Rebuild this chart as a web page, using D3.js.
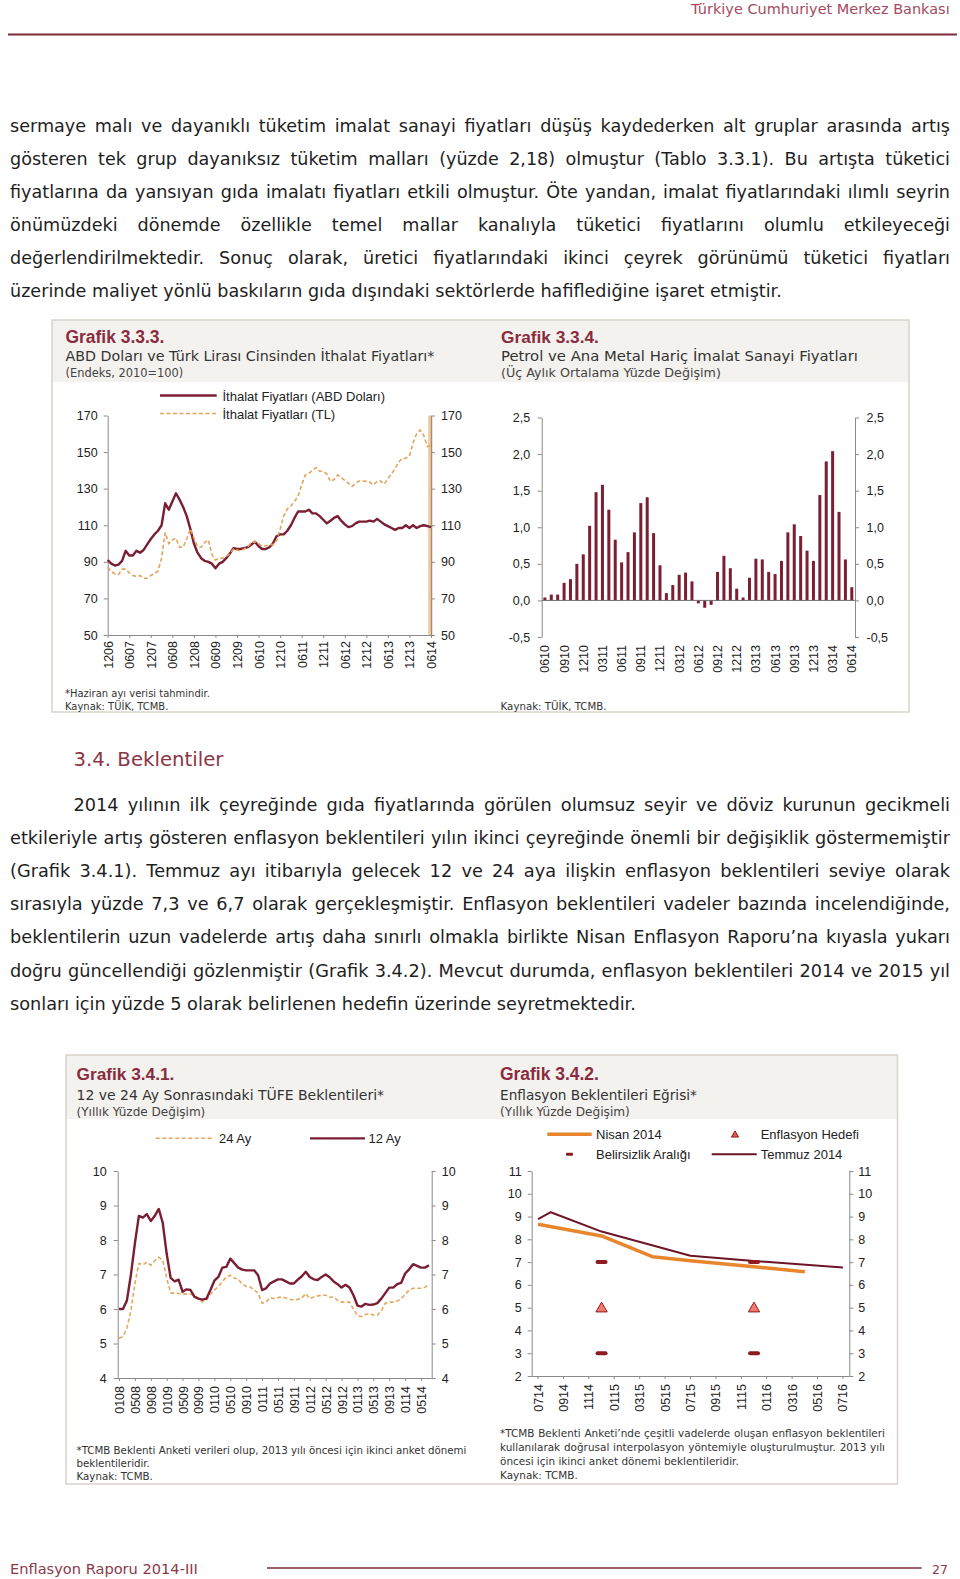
<!DOCTYPE html>
<html><head><meta charset="utf-8">
<script src="https://cdn.jsdelivr.net/npm/d3@7"></script>
<style>html,body{margin:0;padding:0;background:#fff;} svg{display:block;}</style>
</head><body>
<svg id="page" width="960" height="1579"></svg>
<script>
// ---------------- DATA ----------------
const headerText = "Türkiye Cumhuriyet Merkez Bankası";
const footerText = "Enflasyon Raporu  2014-III";
const pageNumber = "27";
const para1 = [
 "sermaye malı ve dayanıklı tüketim imalat sanayi fiyatları düşüş kaydederken alt gruplar arasında artış",
 "gösteren tek grup dayanıksız tüketim malları (yüzde 2,18) olmuştur (Tablo 3.3.1). Bu artışta tüketici",
 "fiyatlarına da yansıyan gıda imalatı fiyatları etkili olmuştur. Öte yandan, imalat fiyatlarındaki ılımlı seyrin",
 "önümüzdeki dönemde özellikle temel mallar kanalıyla tüketici fiyatlarını olumlu etkileyeceği",
 "değerlendirilmektedir. Sonuç olarak, üretici fiyatlarındaki ikinci çeyrek görünümü tüketici fiyatları",
 "üzerinde maliyet yönlü baskıların gıda dışındaki sektörlerde hafiflediğine işaret etmiştir."
];
const sectionTitle = "3.4. Beklentiler";
const para2 = [
 "2014 yılının ilk çeyreğinde gıda fiyatlarında görülen olumsuz seyir ve döviz kurunun gecikmeli",
 "etkileriyle artış gösteren enflasyon beklentileri yılın ikinci çeyreğinde önemli bir değişiklik göstermemiştir",
 "(Grafik 3.4.1). Temmuz ayı itibarıyla gelecek 12 ve 24 aya ilişkin enflasyon beklentileri seviye olarak",
 "sırasıyla yüzde 7,3 ve 6,7 olarak gerçekleşmiştir. Enflasyon beklentileri vadeler bazında incelendiğinde,",
 "beklentilerin uzun vadelerde artış daha sınırlı olmakla birlikte Nisan Enflasyon Raporu’na kıyasla yukarı",
 "doğru güncellendiği gözlenmiştir (Grafik 3.4.2). Mevcut durumda, enflasyon beklentileri 2014 ve 2015 yıl",
 "sonları için yüzde 5 olarak belirlenen hedefin üzerinde seyretmektedir."
];

// Grafik 3.3.3 (monthly, 12/2006 - 06/2014)
const title333 = ["Grafik 3.3.3.", "ABD Doları ve Türk Lirası Cinsinden İthalat Fiyatları*", "(Endeks, 2010=100)"];
const notes333 = ["*Haziran ayı verisi tahmindir.", "Kaynak: TÜİK, TCMB."];
const series333 = ["İthalat Fiyatları (ABD Doları)", "İthalat Fiyatları (TL)"];
const xLabels333 = ["1206","0607","1207","0608","1208","0609","1209","0610","1210","0611","1211","0612","1212","0613","1213","0614"];
const yTicks333 = [50,70,90,110,130,150,170];
const usd333 = [91,89,88,88.5,90.5,96,93.5,93.5,96,95,96.5,99.5,102.5,105,107,110,122,118.5,123,127.5,124,120,115,108,100,95,92,90.5,90,89,86.5,89,90,92,94.5,97.5,97,97,97.5,98,99.5,101,98.5,97,97,98,100,104,105,105,107,110,114,117.5,117.5,117.5,118.5,116.5,116.5,115,113,111,112.5,114,115,112.5,110.5,109,109.5,111,112,112,112,112.5,112,113.5,112,110.5,109.5,108.5,107.5,108.5,108.5,110,108.5,110,108.5,109.5,110,109.5,109];
const tl333 = [87,84.7,83.5,83,86,86,84,82.5,82,82.5,81,81,82.5,83.5,85,92,106,100,102,103,98,98,102.5,108,103,98.5,98,100.5,102,94,91,92,92,93,94.5,97,96.5,96,97,98.3,100.5,101,100,98.5,98.8,99.2,99.5,101.5,108,115,119,120.5,123,126,132,137.5,138.4,140,141.5,139.5,139.5,138,134,135,137.5,136,134.5,133,131.2,133,134.2,134.2,134,133.5,132,134,134.2,132.5,135.5,138,141,144.5,146.6,146.6,148,155,160,162,159,153,153.5];

// Grafik 3.3.4 (monthly, 06/2010 - 06/2014)
const title334 = ["Grafik 3.3.4.", "Petrol ve Ana Metal Hariç İmalat Sanayi Fiyatları", "(Üç Aylık Ortalama Yüzde Değişim)"];
const notes334 = ["Kaynak: TÜİK, TCMB."];
const xLabels334 = ["0610","0910","1210","0311","0611","0911","1211","0312","0612","0912","1212","0313","0613","0913","1213","0314","0614"];
const yTicks334 = [-0.5,0,0.5,1,1.5,2,2.5];
const bars334 = [0.04,0.08,0.08,0.24,0.29,0.5,0.63,1.02,1.48,1.58,1.24,0.83,0.52,0.66,0.93,1.33,1.41,0.92,0.48,0.1,0.21,0.35,0.38,0.26,-0.04,-0.1,-0.06,0.39,0.61,0.44,0.16,0.04,0.31,0.57,0.56,0.39,0.36,0.54,0.93,1.04,0.88,0.68,0.54,1.44,1.9,2.04,1.21,0.56,0.18];

// Grafik 3.4.1 (monthly, 01/2008 - 07/2014)
const title341 = ["Grafik 3.4.1.", "12 ve 24 Ay Sonrasındaki TÜFE Beklentileri*", "(Yıllık Yüzde Değişim)"];
const notes341 = ["*TCMB Beklenti Anketi verileri olup, 2013 yılı öncesi için ikinci anket dönemi", "beklentileridir.", "Kaynak: TCMB."];
const series341 = ["24 Ay", "12 Ay"];
const xLabels341 = ["0108","0508","0908","0109","0509","0909","0110","0510","0910","0111","0511","0911","0112","0512","0912","0113","0513","0913","0114","0514"];
const yTicks341 = [4,5,6,7,8,9,10];
const exp12 = [6.0,6.0,6.25,7.0,7.9,8.7,8.65,8.75,8.55,8.7,8.9,8.5,7.6,6.9,6.8,6.85,6.5,6.57,6.55,6.35,6.3,6.27,6.3,6.55,6.82,6.93,7.2,7.22,7.46,7.33,7.2,7.14,7.12,7.12,7.12,6.98,6.55,6.6,6.74,6.8,6.86,6.86,6.8,6.74,6.74,6.85,6.95,7.08,6.93,6.86,6.84,6.93,7.0,6.92,6.8,6.72,6.62,6.7,6.62,6.4,6.1,6.07,6.15,6.12,6.13,6.17,6.3,6.46,6.62,6.62,6.72,6.76,7.03,7.15,7.3,7.25,7.2,7.2,7.27];
const exp24 = [5.15,5.2,5.45,5.95,6.74,7.32,7.28,7.36,7.27,7.4,7.5,7.42,6.9,6.47,6.45,6.45,6.44,6.43,6.43,6.4,6.3,6.2,6.27,6.42,6.55,6.65,6.79,6.93,6.98,6.9,6.87,6.72,6.66,6.64,6.55,6.46,6.17,6.2,6.33,6.3,6.33,6.35,6.32,6.28,6.26,6.28,6.32,6.45,6.3,6.35,6.38,6.4,6.4,6.34,6.35,6.25,6.2,6.2,6.2,6.0,5.8,5.78,5.84,5.87,5.82,5.82,5.95,6.17,6.2,6.2,6.23,6.3,6.42,6.55,6.6,6.6,6.6,6.63,6.72];

// Grafik 3.4.2
const title342 = ["Grafik 3.4.2.", "Enflasyon Beklentileri Eğrisi*", "(Yıllık Yüzde Değişim)"];
const notes342 = ["*TCMB Beklenti Anketi’nde çeşitli vadelerde oluşan enflasyon beklentileri", "kullanılarak doğrusal interpolasyon yöntemiyle oluşturulmuştur. 2013 yılı", "öncesi için ikinci anket dönemi beklentileridir.", "Kaynak: TCMB."];
const series342 = ["Nisan 2014", "Enflasyon Hedefi", "Belirsizlik Aralığı", "Temmuz 2014"];
const months342 = ["0714","0814","0914","1014","1114","1214","0115","0215","0315","0415","0515","0615","0715","0815","0915","1015","1115","1215","0116","0216","0316","0416","0516","0616","0716"];
const xLabels342 = ["0714","0914","1114","0115","0315","0515","0715","0915","1115","0116","0316","0516","0716"];
const yTicks342 = [2,3,4,5,6,7,8,9,10,11];
const nisanPeriods = ["0714","1214","0415","0715","1215","0416"];
const nisanValues = [8.66,8.15,7.24,7.06,6.8,6.58];
const temmuzPeriods = ["0714","0814","1214","0715","1215","0716"];
const temmuzValues = [8.89,9.19,8.34,7.28,7.05,6.76];
const bandPeriods = ["1214","1214","1215","1215"];
const bandValues = [7,3,7,3];
const targetPeriods = ["1214","1215"];
const targetValues = [5,5];

// ---------------- DRAWING ----------------
const GOTHIC = "'DejaVu Sans', sans-serif";
const ARIAL = "'Liberation Sans', Arial, sans-serif";
const TITLE = "#8a2b40";
const MAROON = "#7a1e34";
const ORANGE_D = "#e3a35a";
const AX = "#8a8a8a";
const svg = d3.select("#page");
svg.append("rect").attr("width",960).attr("height",1579).attr("fill","#fff");

function fitFont(t, w){
  const fs = parseFloat(t.attr("font-size"));
  const len = t.node().getComputedTextLength();
  if (len>0) t.attr("font-size", (fs*w/len).toFixed(3));
}
function justify(t, w){
  const len = t.node().getComputedTextLength();
  const n = (t.text().match(/ /g)||[]).length;
  if (n>0) t.style("word-spacing", ((w-len)/n).toFixed(3)+"px");
}
function txt(g, s, x, y, o={}){
  const t = g.append("text").attr("x",x).attr("y",y).text(s)
    .attr("font-family", o.family||GOTHIC).attr("font-size", o.size||12)
    .attr("fill", o.color||"#222");
  if (o.weight) t.attr("font-weight", o.weight);
  if (o.anchor) t.attr("text-anchor", o.anchor);
  if (o.fit) fitFont(t, o.fit);
  return t;
}
function paragraph(lines, xs, y0, lh, lastW, right){
  const g = svg.append("g");
  const probe = txt(g, lines[lines.length-1], 0, -100, {size:16});
  const fs = 16*lastW/probe.node().getComputedTextLength();
  probe.remove();
  lines.forEach((s,i)=>{
    const t = txt(g, s, xs[i], y0+i*lh, {size:fs, color:"#1e1e1e"});
    if (i<lines.length-1) justify(t, right-xs[i]);
  });
}
function noteBlock(g, lines, x, y0, lh, fitIdx, fitW, justW){
  const probe = txt(g, lines[fitIdx], 0, -100, {size:11});
  const fs = 11*fitW/probe.node().getComputedTextLength();
  probe.remove();
  lines.forEach((s,i)=>{
    const t = txt(g, s, x, y0+i*lh, {size:fs, color:"#333"});
    if (justW && justW[i]) justify(t, justW[i]);
  });
}
function styleAxis(a){
  a.attr("font-family",null).attr("font-size",null);
  a.select(".domain").attr("stroke",AX);
  a.selectAll(".tick line").attr("stroke",AX);
  a.selectAll(".tick text").attr("fill","#222").attr("font-family",ARIAL).attr("font-size",12.5);
  return a;
}
function rotateLabels(a, off){
  a.selectAll(".tick text").attr("transform","rotate(-90)").attr("text-anchor","end")
    .attr("x",-off).attr("y",0).attr("dy","0.36em");
}
const fmtComma = v => d3.format(".1f")(v).replace(".",",").replace("\u2212","-");
const fmtInt = d3.format("d");

// header
txt(svg, headerText, 691, 13.5, {size:15, color:"#a54b5e", fit:259});
svg.append("line").attr("x1",8).attr("x2",957).attr("y1",34.5).attr("y2",34.5).attr("stroke","#7b2b3b").attr("stroke-width",2);

// paragraphs
paragraph(para1, para1.map(()=>10), 131.5, 33.1, 772.6, 950);
txt(svg, sectionTitle, 73.5, 766, {size:21, color:"#8b3546", fit:150});
paragraph(para2, para2.map((d,i)=>i===0?73.5:10), 811, 33.1, 626.6, 950);

// footer
txt(svg, footerText, 10, 1573.5, {size:15, color:"#8b3a4a", fit:188});
txt(svg, pageNumber, 932, 1573.5, {size:15, color:"#8b3a4a", fit:16});
svg.append("line").attr("x1",267).attr("x2",921.7).attr("y1",1568).attr("y2",1568).attr("stroke","#7b2b3b").attr("stroke-width",1.5);

// boxes
function box(x,y,w,h,bh){
  svg.append("rect").attr("x",x).attr("y",y).attr("width",w).attr("height",bh).attr("fill","#f4f2ee");
  svg.append("rect").attr("x",x).attr("y",y).attr("width",w).attr("height",h).attr("fill","none").attr("stroke","#d8d4cc").attr("stroke-width",1.5);
}
box(52,320,857,392,62);
box(66,1055,831.5,429,64);

function titles(g, t, x, ys, ws){
  txt(g, t[0], x, ys[0], {family:ARIAL, size:17, weight:"bold", color:TITLE, fit:ws[0]});
  txt(g, t[1], x, ys[1], {size:14.5, color:"#333", fit:ws[1]});
  txt(g, t[2], x, ys[2], {size:12, color:"#444", fit:ws[2]});
}

// ---- Grafik 3.3.3 ----
{
  const g = svg.append("g");
  titles(g, title333, 65.5, [343,360.5,377], [99,369,118]);
  const x = d3.scaleLinear().domain([0, usd333.length-1]).range([107.7, 431]);
  const y = d3.scaleLinear().domain([50,170]).range([635,415.5]);
  g.append("rect").attr("x",x(usd333.length-1)-3).attr("y",y(170)).attr("width",3).attr("height",y(50)-y(170)).attr("fill","#f5cfa4");
  styleAxis(g.append("g").attr("transform","translate(107.7,0)").call(d3.axisLeft(y).tickValues(yTicks333).tickFormat(fmtInt).tickSize(4).tickSizeOuter(0).tickPadding(6)));
  const ra = styleAxis(g.append("g").attr("transform","translate(431,0)").call(d3.axisRight(y).tickValues(yTicks333).tickFormat(fmtInt).tickSize(4).tickSizeOuter(0).tickPadding(6)));
  ra.select(".domain").attr("stroke","#a58a78").attr("stroke-width",1.5);
  const xa = styleAxis(g.append("g").attr("transform","translate(0,635)").call(d3.axisBottom(x).tickValues(d3.range(0,usd333.length,6)).tickFormat(i=>xLabels333[i/6]).tickSize(3).tickSizeOuter(0)));
  rotateLabels(xa, 6);
  const line = d3.line().x((d,i)=>x(i)).y(d=>y(d));
  g.append("path").datum(usd333).attr("d",line).attr("fill","none").attr("stroke",MAROON).attr("stroke-width",2.4).attr("stroke-linejoin","round");
  g.append("path").datum(tl333).attr("d",line).attr("fill","none").attr("stroke",ORANGE_D).attr("stroke-width",1.6).attr("stroke-dasharray","4,2.5");
  // legend
  g.append("line").attr("x1",160).attr("x2",216.7).attr("y1",395.5).attr("y2",395.5).attr("stroke",MAROON).attr("stroke-width",2.4);
  txt(g, series333[0], 222.5, 400.5, {family:ARIAL, size:13});
  g.append("line").attr("x1",160).attr("x2",216.7).attr("y1",413.5).attr("y2",413.5).attr("stroke",ORANGE_D).attr("stroke-width",1.6).attr("stroke-dasharray","4,2.5");
  txt(g, series333[1], 222.5, 418.5, {family:ARIAL, size:13});
  noteBlock(g, notes333, 65, 696.5, 13.5, 0, 145);
}

// ---- Grafik 3.3.4 ----
{
  const g = svg.append("g");
  titles(g, title334, 501, [343,360.5,377], [98,357,220]);
  const x = d3.scaleBand().domain(d3.range(bars334.length)).range([541.7,855]);
  const y = d3.scaleLinear().domain([-0.5,2.5]).range([637,417.5]);
  styleAxis(g.append("g").attr("transform","translate(541.7,0)").call(d3.axisLeft(y).tickValues(yTicks334).tickFormat(fmtComma).tickSize(4).tickSizeOuter(0).tickPadding(7.5)));
  styleAxis(g.append("g").attr("transform","translate(855,0)").call(d3.axisRight(y).tickValues(yTicks334).tickFormat(fmtComma).tickSize(4).tickSizeOuter(0).tickPadding(7.5)));
  g.selectAll("rect.bar").data(bars334).join("rect").attr("class","bar")
    .attr("x",(d,i)=>x(i)+x.bandwidth()/2-1.5).attr("width",3)
    .attr("y",d=>y(Math.max(0,d))).attr("height",d=>Math.abs(y(d)-y(0)))
    .attr("fill","#7b1f33");
  g.append("line").attr("x1",541.7).attr("x2",855).attr("y1",y(0)).attr("y2",y(0)).attr("stroke","#6e6e6e").attr("stroke-width",1);
  const xa = g.append("g").attr("transform","translate(0,637)").call(d3.axisBottom(x).tickValues(d3.range(0,bars334.length,3)).tickFormat(i=>xLabels334[i/3]).tickSize(0));
  styleAxis(xa); xa.select(".domain").remove();
  rotateLabels(xa, 8);
  noteBlock(g, notes334, 500.6, 709.5, 13.5, 0, 106);
}

// ---- Grafik 3.4.1 ----
{
  const g = svg.append("g");
  titles(g, title341, 76.5, [1080,1100,1116], [98,308,129]);
  const x = d3.scaleLinear().domain([0, exp12.length-1]).range([119,429]);
  const y = d3.scaleLinear().domain([4,10]).range([1378,1171]);
  styleAxis(g.append("g").attr("transform","translate(117.7,0)").call(d3.axisLeft(y).tickValues(yTicks341).tickFormat(fmtInt).tickSize(4).tickSizeOuter(0).tickPadding(7)));
  styleAxis(g.append("g").attr("transform","translate(431.7,0)").call(d3.axisRight(y).tickValues(yTicks341).tickFormat(fmtInt).tickSize(4).tickSizeOuter(0).tickPadding(6)));
  g.append("line").attr("x1",117.7).attr("x2",431.7).attr("y1",1378.5).attr("y2",1378.5).attr("stroke",AX);
  const xa = g.append("g").attr("transform","translate(0,1378)").call(d3.axisBottom(x).tickValues(d3.range(0,exp12.length,4)).tickFormat(i=>xLabels341[i/4]).tickSize(3).tickSizeOuter(0));
  styleAxis(xa); xa.select(".domain").remove();
  rotateLabels(xa, 8);
  const line = d3.line().x((d,i)=>x(i)).y(d=>y(d));
  g.append("path").datum(exp24).attr("d",line).attr("fill","none").attr("stroke","#e6a85e").attr("stroke-width",1.6).attr("stroke-dasharray","4,2.5");
  g.append("path").datum(exp12).attr("d",line).attr("fill","none").attr("stroke",MAROON).attr("stroke-width",2.4).attr("stroke-linejoin","round");
  g.append("line").attr("x1",155.7).attr("x2",211.7).attr("y1",1138.3).attr("y2",1138.3).attr("stroke","#e6a85e").attr("stroke-width",1.6).attr("stroke-dasharray","4,2.5");
  txt(g, series341[0], 219, 1143, {family:ARIAL, size:13});
  g.append("line").attr("x1",310).attr("x2",365).attr("y1",1138.3).attr("y2",1138.3).attr("stroke",MAROON).attr("stroke-width",2.2);
  txt(g, series341[1], 368.5, 1143, {family:ARIAL, size:13});
  noteBlock(g, notes341, 76.5, 1454, 12.8, 0, 390);
}

// ---- Grafik 3.4.2 ----
{
  const g = svg.append("g");
  titles(g, title342, 500, [1080,1100,1116], [99,197,130]);
  const x = d3.scaleBand().domain(months342).range([531.7,849.3]);
  const cx = m => x(m)+x.bandwidth()/2;
  const y = d3.scaleLinear().domain([2,11]).range([1376,1171]);
  styleAxis(g.append("g").attr("transform","translate(531.7,0)").call(d3.axisLeft(y).tickValues(yTicks342).tickFormat(fmtInt).tickSize(4).tickSizeOuter(0).tickPadding(6)));
  styleAxis(g.append("g").attr("transform","translate(849.3,0)").call(d3.axisRight(y).tickValues(yTicks342).tickFormat(fmtInt).tickSize(4).tickSizeOuter(0).tickPadding(5)));
  g.append("line").attr("x1",531.7).attr("x2",849.3).attr("y1",1376.5).attr("y2",1376.5).attr("stroke",AX);
  const xa = g.append("g").attr("transform","translate(0,1376)").call(d3.axisBottom(x).tickValues(xLabels342).tickSize(3).tickSizeOuter(0));
  styleAxis(xa); xa.select(".domain").remove();
  rotateLabels(xa, 8);
  const line = d3.line().x(d=>cx(d[0])).y(d=>y(d[1]));
  g.append("path").datum(d3.zip(nisanPeriods,nisanValues)).attr("d",line).attr("fill","none").attr("stroke","#e8862e").attr("stroke-width",3.5).attr("stroke-linejoin","round");
  g.append("path").datum(d3.zip(temmuzPeriods,temmuzValues)).attr("d",line).attr("fill","none").attr("stroke","#6d1527").attr("stroke-width",2).attr("stroke-linejoin","round");
  g.selectAll("rect.band").data(d3.zip(bandPeriods,bandValues)).join("rect").attr("class","band")
    .attr("x",d=>cx(d[0])-6).attr("y",d=>y(d[1])-2).attr("width",12).attr("height",4).attr("rx",2)
    .attr("fill","#8e1b1f");
  g.selectAll("path.tgt").data(d3.zip(targetPeriods,targetValues)).join("path").attr("class","tgt")
    .attr("d", d3.symbol(d3.symbolTriangle, 55)())
    .attr("transform",d=>`translate(${cx(d[0])},${y(d[1])+1})`)
    .attr("fill","#f27a6a").attr("stroke","#8e1b1f").attr("stroke-width",1);
  // legend
  g.append("line").attr("x1",547.3).attr("x2",591.7).attr("y1",1134.3).attr("y2",1134.3).attr("stroke","#e8862e").attr("stroke-width",3.5);
  txt(g, series342[0], 596, 1139, {family:ARIAL, size:13});
  g.append("path").attr("d", d3.symbol(d3.symbolTriangle, 22)()).attr("transform","translate(735,1135)").attr("fill","#e0584a").attr("stroke","#8e1b1f").attr("stroke-width",1);
  txt(g, series342[1], 760.7, 1139, {family:ARIAL, size:13});
  g.append("rect").attr("x",566).attr("y",1152.8).attr("width",7).attr("height",3).attr("rx",1).attr("fill","#8e1b1f");
  txt(g, series342[2], 596, 1159, {family:ARIAL, size:13});
  g.append("line").attr("x1",711.7).attr("x2",756.7).attr("y1",1154.3).attr("y2",1154.3).attr("stroke","#6d1527").attr("stroke-width",2);
  txt(g, series342[3], 760.7, 1159, {family:ARIAL, size:13});
  noteBlock(g, notes342, 500, 1437.3, 13.8, 2, 239, [385,385,0,0]);
}
</script>
</body></html>
